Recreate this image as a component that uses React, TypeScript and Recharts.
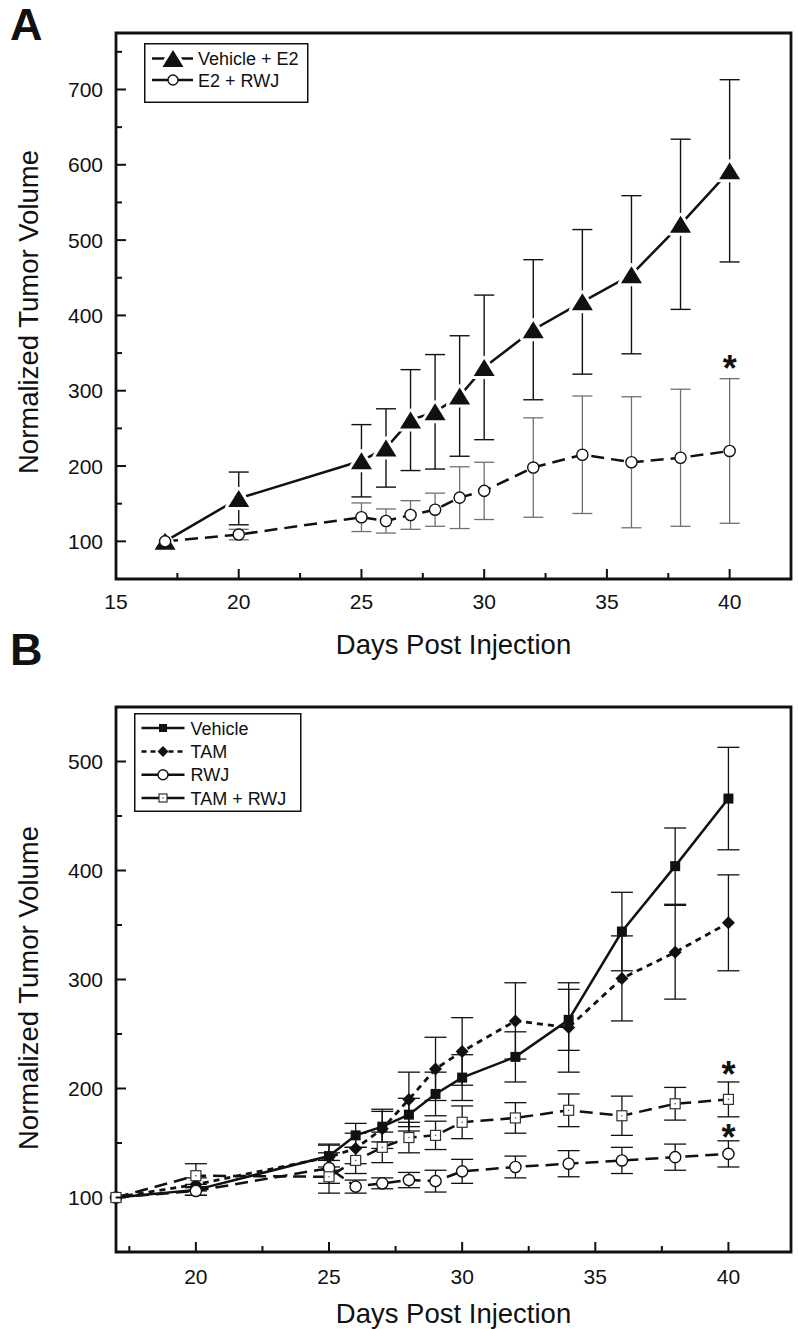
import React from 'react';
import {
  LineChart,
  Line,
  XAxis,
  YAxis,
  ErrorBar,
  Legend,
  ReferenceDot,
  ReferenceArea,
} from 'recharts';

const FONT = '"Liberation Sans", Arial, Helvetica, sans-serif';
const INK = '#111';
const GREY = '#707070';

// Panel A: days post injection, normalized tumor volume (mean and error)
const daysA = [17, 20, 25, 26, 27, 28, 29, 30, 32, 34, 36, 38, 40];
const vehicleE2 = [100, 157, 207, 224, 261, 272, 293, 331, 381, 418, 454, 521, 592];
const vehicleE2Err = [0, 35, 48, 52, 67, 76, 80, 96, 93, 96, 105, 113, 121];
const e2Rwj = [100, 109, 132, 127, 135, 142, 158, 167, 198, 215, 205, 211, 220];
const e2RwjErr = [0, 7, 19, 16, 19, 22, 41, 38, 66, 78, 87, 91, 96];

// Panel B
const daysB = [17, 20, 25, 26, 27, 28, 29, 30, 32, 34, 36, 38, 40];
const vehicle = [100, 107, 138, 157, 165, 176, 195, 210, 229, 263, 344, 404, 466];
const vehicleErr = [0, 5, 10, 11, 14, 15, 20, 21, 23, 28, 36, 35, 47];
const tam = [100, 112, 137, 145, 163, 190, 218, 234, 262, 256, 301, 325, 352];
const tamErr = [0, 6, 12, 14, 18, 25, 29, 31, 35, 41, 39, 43, 44];
const rwj = [100, 106, 127, 110, 113, 116, 115, 124, 128, 131, 134, 137, 140];
const rwjErr = [0, 4, 14, 6, 5, 7, 10, 11, 10, 12, 12, 12, 12];
const tamRwj = [100, 120, 119, 134, 146, 155, 157, 169, 173, 180, 175, 186, 190];
const tamRwjErr = [0, 11, 15, 12, 14, 14, 13, 15, 14, 15, 18, 15, 16];

// axis ticks (majors labelled, halves are minor ticks)
const xTicksA = [15, 17.5, 20, 22.5, 25, 27.5, 30, 32.5, 35, 37.5, 40];
const yTicksA = [100, 150, 200, 250, 300, 350, 400, 450, 500, 550, 600, 650, 700, 750];
const xTicksB = [17.5, 20, 22.5, 25, 27.5, 30, 32.5, 35, 37.5, 40];
const yTicksB = [100, 150, 200, 250, 300, 350, 400, 450, 500];

const dataA = daysA.map((day, i) => ({
  day,
  veh: vehicleE2[i],
  vehErr: vehicleE2Err[i],
  rwj: e2Rwj[i],
  rwjErr: e2RwjErr[i],
}));

const dataB = daysB.map((day, i) => ({
  day,
  veh: vehicle[i],
  vehErr: vehicleErr[i],
  tam: tam[i],
  tamErr: tamErr[i],
  rwj: rwj[i],
  rwjErr: rwjErr[i],
  combo: tamRwj[i],
  comboErr: tamRwjErr[i],
}));

// ---------- markers ----------
const triPts = (cx: number, cy: number, w: number, h: number) =>
  `${cx},${cy - h / 2} ${cx - w / 2},${cy + h / 2} ${cx + w / 2},${cy + h / 2}`;

const Triangle = ({ cx, cy, size = 1 }: any) => {
  if (cx == null || cy == null) return <g />;
  const pts = triPts(cx, cy, 21 * size, 17 * size);
  return (
    <g>
      <polygon points={pts} fill="#fff" stroke="#fff" strokeWidth={6} strokeLinejoin="round" />
      <polygon points={pts} fill={INK} />
    </g>
  );
};

const OpenCircle = ({ cx, cy, r = 5.6 }: any) =>
  cx == null || cy == null ? <g /> : <circle cx={cx} cy={cy} r={r} fill="#fff" stroke={INK} strokeWidth={1.4} />;

const FilledSquare = ({ cx, cy, s = 10 }: any) =>
  cx == null || cy == null ? <g /> : <rect x={cx - s / 2} y={cy - s / 2} width={s} height={s} fill={INK} />;

const Diamond = ({ cx, cy, d = 6.5 }: any) =>
  cx == null || cy == null ? (
    <g />
  ) : (
    <polygon points={`${cx},${cy - d} ${cx + d},${cy} ${cx},${cy + d} ${cx - d},${cy}`} fill={INK} />
  );

const OpenSquare = ({ cx, cy, s = 10 }: any) =>
  cx == null || cy == null ? (
    <g />
  ) : (
    <g>
      <rect x={cx - s / 2} y={cy - s / 2} width={s} height={s} fill="#fff" stroke="#333" strokeWidth={1.2} />
      <circle cx={cx} cy={cy} r={0.8} fill="#555" />
    </g>
  );

// ---------- ticks ----------
const makeXTick = (gap: number) => (p: any) => {
  const v = p.payload.value;
  const major = v % 5 === 0;
  return (
    <g>
      <line x1={p.x} x2={p.x} y1={p.y} y2={p.y - (major ? 10 : 6)} stroke={INK} strokeWidth={2} />
      {major && (
        <text x={p.x} y={p.y + gap} textAnchor="middle" fontSize={21} fontFamily={FONT} fill={INK}>
          {v}
        </text>
      )}
    </g>
  );
};

const YTick = (p: any) => {
  const v = p.payload.value;
  const major = v % 100 === 0;
  return (
    <g>
      <line x1={p.x} x2={p.x + (major ? 10 : 6)} y1={p.y} y2={p.y} stroke={INK} strokeWidth={2} />
      {major && (
        <text x={p.x - 13} y={p.y + 7.5} textAnchor="end" fontSize={21} fontFamily={FONT} fill={INK}>
          {v}
        </text>
      )}
    </g>
  );
};

const xTitle = (y: number) => () =>
  (
    <text x={453.5} y={y} textAnchor="middle" fontSize={27.5} fontFamily={FONT} fill={INK}>
      Days Post Injection
    </text>
  );

const yTitle = (cy: number) => () =>
  (
    <text
      x={38}
      y={cy}
      transform={`rotate(-90 38 ${cy})`}
      textAnchor="middle"
      fontSize={27.5}
      fontFamily={FONT}
      fill={INK}
    >
      Normalized Tumor Volume
    </text>
  );

const Star = (p: any) => (
  <text x={p.cx} y={p.cy + 20} textAnchor="middle" fontSize={36} fontWeight="bold" fontFamily={FONT} fill={INK}>
    *
  </text>
);

// ---------- legends ----------
const legendText = { fontSize: 18, fontFamily: FONT, fill: INK } as const;

const LegendA = () => (
  <svg width={166} height={61} style={{ display: 'block' }}>
    <rect x={0.75} y={0.75} width={163} height={58.5} fill="#fff" stroke={INK} strokeWidth={1.5} />
    <line x1={8} x2={49} y1={15.5} y2={15.5} stroke={INK} strokeWidth={2.5} />
    <Triangle cx={29} cy={15.5} />
    <text x={54} y={22} {...legendText}>Vehicle + E2</text>
    <line x1={8} x2={49} y1={37} y2={37} stroke={INK} strokeWidth={2.5} />
    <OpenCircle cx={29} cy={37} r={5} />
    <text x={54} y={43.5} {...legendText}>E2 + RWJ</text>
  </svg>
);

const LegendB = () => {
  const rows = [15, 38.4, 61.7, 85];
  return (
    <svg width={170} height={100} style={{ display: 'block' }}>
      <rect x={0.75} y={0.75} width={166} height={97.5} fill="#fff" stroke={INK} strokeWidth={1.5} />
      <line x1={7.5} x2={50.5} y1={rows[0]} y2={rows[0]} stroke={INK} strokeWidth={2.5} />
      <FilledSquare cx={29} cy={rows[0]} s={8} />
      <text x={56.5} y={rows[0] + 6.5} {...legendText}>Vehicle</text>
      <line x1={7.5} x2={50.5} y1={rows[1]} y2={rows[1]} stroke={INK} strokeWidth={2.5} strokeDasharray="5 4" />
      <Diamond cx={29} cy={rows[1]} d={5.5} />
      <text x={56.5} y={rows[1] + 6.5} {...legendText}>TAM</text>
      <line x1={7.5} x2={50.5} y1={rows[2]} y2={rows[2]} stroke={INK} strokeWidth={2.5} />
      <OpenCircle cx={29} cy={rows[2]} r={5} />
      <text x={56.5} y={rows[2] + 6.5} {...legendText}>RWJ</text>
      <line x1={7.5} x2={50.5} y1={rows[3]} y2={rows[3]} stroke={INK} strokeWidth={2.5} />
      <OpenSquare cx={29} cy={rows[3]} s={8} />
      <text x={56.5} y={rows[3] + 6.5} {...legendText}>TAM + RWJ</text>
    </svg>
  );
};

const frameStroke = { stroke: INK, strokeWidth: 2.8 };

function PanelA() {
  return (
    <LineChart width={798} height={664} data={dataA} margin={{ top: 33, right: 7, bottom: 0, left: 0 }}>
      <XAxis
        dataKey="day"
        type="number"
        domain={[15, 42.5]}
        ticks={xTicksA}
        interval={0}
        height={85}
        axisLine={false}
        tickLine={false}
        tickSize={0}
        tickMargin={0}
        tick={makeXTick(30)}
        label={{ content: xTitle(654) }}
      />
      <YAxis
        type="number"
        domain={[50, 775]}
        ticks={yTicksA}
        interval={0}
        width={116}
        axisLine={false}
        tickLine={false}
        tickSize={0}
        tickMargin={0}
        tick={YTick}
        label={{ content: yTitle(312) }}
      />
      <ReferenceArea x1={15} x2={42.5} y1={50} y2={775} fill="none" {...frameStroke} ifOverflow="visible" />
      <Line
        dataKey="veh"
        type="linear"
        stroke={INK}
        strokeWidth={2.5}
        dot={(p: any) => <Triangle key={`ta${p.index}`} cx={p.cx} cy={p.cy} />}
        activeDot={false}
        isAnimationActive={false}
      >
        <ErrorBar dataKey="vehErr" direction="y" width={10} stroke={INK} strokeWidth={1.4} isAnimationActive={false} />
      </Line>
      <Line
        dataKey="rwj"
        type="linear"
        stroke={INK}
        strokeWidth={2.5}
        strokeDasharray="13 7"
        dot={(p: any) => <OpenCircle key={`ca${p.index}`} cx={p.cx} cy={p.cy} />}
        activeDot={false}
        isAnimationActive={false}
      >
        <ErrorBar dataKey="rwjErr" direction="y" width={10} stroke={GREY} strokeWidth={1.3} isAnimationActive={false} />
      </Line>
      <ReferenceDot x={40} y={340} r={0} shape={Star} />
      <Legend
        layout="horizontal"
        align="center"
        verticalAlign="middle"
        content={() => <LegendA />}
        wrapperStyle={{ left: 144, top: 43, width: 166, height: 61 }}
      />
    </LineChart>
  );
}

function PanelB() {
  return (
    <LineChart width={798} height={669} data={dataB} margin={{ top: 47, right: 7, bottom: 0, left: 0 }}>
      <XAxis
        dataKey="day"
        type="number"
        domain={[17, 42.35]}
        ticks={xTicksB}
        interval={0}
        height={77}
        axisLine={false}
        tickLine={false}
        tickSize={0}
        tickMargin={0}
        tick={makeXTick(32)}
        label={{ content: xTitle(663) }}
      />
      <YAxis
        type="number"
        domain={[50, 550]}
        ticks={yTicksB}
        interval={0}
        width={116}
        axisLine={false}
        tickLine={false}
        tickSize={0}
        tickMargin={0}
        tick={YTick}
        label={{ content: yTitle(328) }}
      />
      <ReferenceArea x1={17} x2={42.35} y1={50} y2={550} fill="none" {...frameStroke} ifOverflow="visible" />
      <Line
        dataKey="veh"
        type="linear"
        stroke={INK}
        strokeWidth={2.5}
        dot={(p: any) => <FilledSquare key={`vb${p.index}`} cx={p.cx} cy={p.cy} />}
        activeDot={false}
        isAnimationActive={false}
      >
        <ErrorBar dataKey="vehErr" direction="y" width={11} stroke={INK} strokeWidth={1.3} isAnimationActive={false} />
      </Line>
      <Line
        dataKey="tam"
        type="linear"
        stroke={INK}
        strokeWidth={2.8}
        strokeDasharray="6 5"
        dot={(p: any) => <Diamond key={`tb${p.index}`} cx={p.cx} cy={p.cy} />}
        activeDot={false}
        isAnimationActive={false}
      >
        <ErrorBar dataKey="tamErr" direction="y" width={11} stroke={INK} strokeWidth={1.3} isAnimationActive={false} />
      </Line>
      <Line
        dataKey="rwj"
        type="linear"
        stroke={INK}
        strokeWidth={2.5}
        strokeDasharray="13 7"
        dot={(p: any) => <OpenCircle key={`rb${p.index}`} cx={p.cx} cy={p.cy} />}
        activeDot={false}
        isAnimationActive={false}
      >
        <ErrorBar dataKey="rwjErr" direction="y" width={11} stroke={INK} strokeWidth={1.3} isAnimationActive={false} />
      </Line>
      <Line
        dataKey="combo"
        type="linear"
        stroke={INK}
        strokeWidth={2.5}
        strokeDasharray="13 7"
        dot={(p: any) => <OpenSquare key={`cb${p.index}`} cx={p.cx} cy={p.cy} />}
        activeDot={false}
        isAnimationActive={false}
      >
        <ErrorBar dataKey="comboErr" direction="y" width={11} stroke={INK} strokeWidth={1.3} isAnimationActive={false} />
      </Line>
      <ReferenceDot x={40} y={220} r={0} shape={Star} />
      <ReferenceDot x={40} y={162} r={0} shape={Star} />
      <Legend
        layout="horizontal"
        align="center"
        verticalAlign="middle"
        content={() => <LegendB />}
        wrapperStyle={{ left: 134, top: 53, width: 170, height: 100 }}
      />
    </LineChart>
  );
}

export default function App() {
  return (
    <div style={{ position: 'absolute', left: 0, top: 0, width: 798, height: 1329, background: '#fff' }}>
      <div style={{ position: 'absolute', left: 0, top: 0 }}>
        <PanelA />
      </div>
      <div style={{ position: 'absolute', left: 0, top: 660 }}>
        <PanelB />
      </div>
      <svg width={60} height={1329} style={{ position: 'absolute', left: 0, top: 0, pointerEvents: 'none' }}>
        <text x={10} y={40} fontSize={45} fontWeight="bold" fontFamily={FONT} fill={INK}>
          A
        </text>
        <text x={10} y={665} fontSize={45} fontWeight="bold" fontFamily={FONT} fill={INK}>
          B
        </text>
      </svg>
    </div>
  );
}
